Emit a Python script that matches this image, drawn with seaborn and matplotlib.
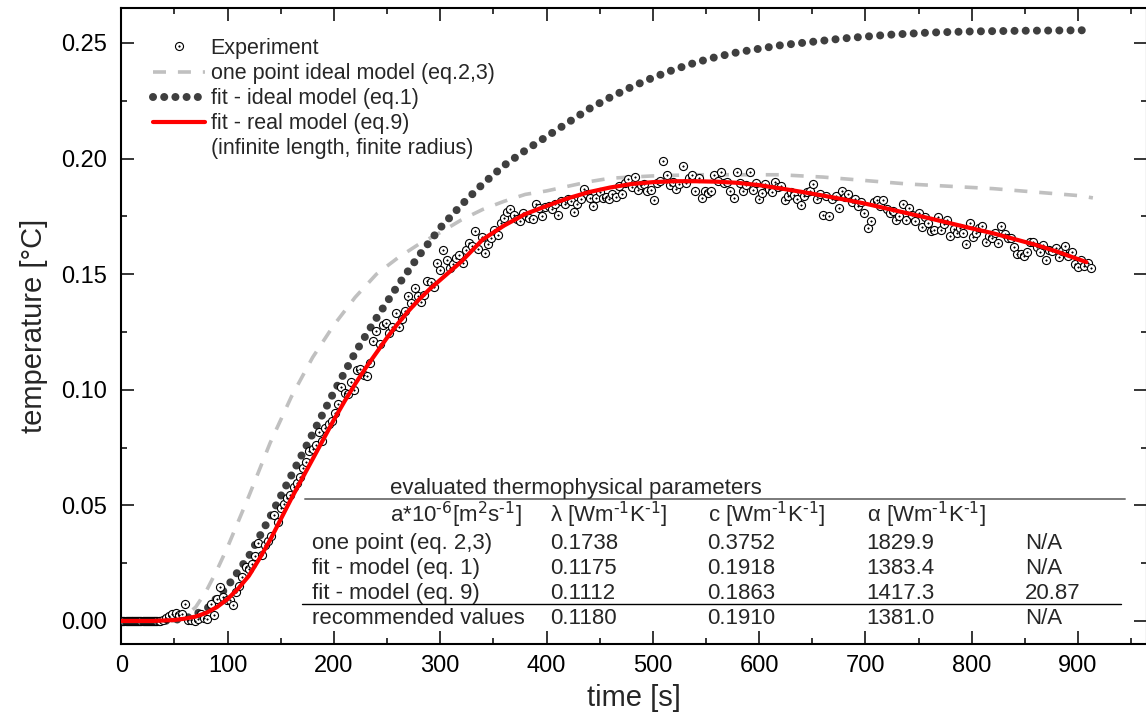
import numpy as np
import pandas as pd
import matplotlib
matplotlib.use("Agg")
import matplotlib.pyplot as plt
import seaborn as sns
from matplotlib.lines import Line2D
from matplotlib.ticker import MultipleLocator, FormatStrFormatter

# ---------------- data ----------------
# experiment: dense start (1 s sampling), then 3 s sampling from 36 s
exp_early_t = [0, 1, 2, 3, 4, 5, 6, 7, 8, 9, 10, 11, 12, 13, 14, 15, 16, 17,
               18, 19, 20, 21, 22, 23, 24, 25, 26, 27, 28, 29, 30, 31, 32, 33, 34, 35]
exp_early_y = [0.0, 0.0, 0.0, 0.0, 0.0, 0.0, 0.0, 0.0, 0.0, 0.0, 0.0, 0.0,
               0.0, 0.0, 0.0, 0.0, 0.0, 0.0, 0.0, 0.0, 0.0, 0.0, 0.0, 0.0,
               0.0, 0.0, 0.0, 0.0, 0.0, 0.0, 0.0, 0.0, 0.0, 0.0, 0.0, 0.0]
exp_y = [
    0.0000, 0.0005, 0.0012, 0.0020, 0.0031, 0.0035, 0.0024, 0.0028, 0.0074, 0.0004,   # 36-63
    0.0003, 0.0001, 0.0008, 0.0030, 0.0012, 0.0009, 0.0072, 0.0026, 0.0094, 0.0147,   # 66-93
    0.0105, 0.0090, 0.0089, 0.0070, 0.0125, 0.0151, 0.0190, 0.0233, 0.0225, 0.0245,   # 96-123
    0.0279, 0.0336, 0.0284, 0.0330, 0.0345, 0.0368, 0.0458, 0.0430, 0.0490, 0.0505,   # 126-153
    0.0530, 0.0545, 0.0580, 0.0595, 0.0623, 0.0660, 0.0686, 0.0736, 0.0745, 0.0760,   # 156-183
    0.0818, 0.0778, 0.0835, 0.0851, 0.0866, 0.0899, 0.0940, 0.1010, 0.0985, 0.0980,   # 186-213
    0.1035, 0.1000, 0.1086, 0.1090, 0.1065, 0.1060, 0.1115, 0.1210, 0.1255, 0.1200,   # 216-243
    0.1280, 0.1290, 0.1245, 0.1270, 0.1330, 0.1270, 0.1305, 0.1340, 0.1405, 0.1375,   # 246-273
    0.1440, 0.1405, 0.1380, 0.1410, 0.1470, 0.1465, 0.1445, 0.1547, 0.1520, 0.1605,   # 276-303
    0.1560, 0.1525, 0.1545, 0.1570, 0.1585, 0.1550, 0.1605, 0.1634, 0.1620, 0.1685,   # 306-333
    0.1610, 0.1660, 0.1590, 0.1630, 0.1655, 0.1690, 0.1670, 0.1720, 0.1745, 0.1770,   # 336-363
    0.1780, 0.1755, 0.1740, 0.1730, 0.1765, 0.1750, 0.1745, 0.1740, 0.1805, 0.1785,   # 366-393
    0.1750, 0.1790, 0.1795, 0.1780, 0.1805, 0.1755, 0.1815, 0.1805, 0.1823, 0.1815,   # 396-423
    0.1770, 0.1805, 0.1823, 0.1870, 0.1845, 0.1830, 0.1797, 0.1830, 0.1855, 0.1830,   # 426-453
    0.1835, 0.1826, 0.1845, 0.1835, 0.1880, 0.1845, 0.1895, 0.1910, 0.1875, 0.1920,   # 456-483
    0.1866, 0.1885, 0.1890, 0.1860, 0.1866, 0.1820, 0.1895, 0.1905, 0.1990, 0.1930,   # 486-513
    0.1885, 0.1900, 0.1870, 0.1890, 0.1970, 0.1895, 0.1915, 0.1930, 0.1860, 0.1915,   # 516-543
    0.1830, 0.1860, 0.1852, 0.1860, 0.1930, 0.1905, 0.1940, 0.1893, 0.1900, 0.1860,   # 546-573
    0.1828, 0.1944, 0.1895, 0.1860, 0.1885, 0.1940, 0.1862, 0.1893, 0.1825, 0.1850,   # 576-603
    0.1890, 0.1870, 0.1855, 0.1900, 0.1875, 0.1880, 0.1820, 0.1840, 0.1855, 0.1842,   # 606-633
    0.1825, 0.1800, 0.1840, 0.1855, 0.1860, 0.1890, 0.1825, 0.1845, 0.1755, 0.1838,   # 636-663
    0.1750, 0.1825, 0.1838, 0.1787, 0.1860, 0.1835, 0.1845, 0.1812, 0.1825, 0.1795,   # 666-693
    0.1810, 0.1765, 0.1700, 0.1730, 0.1810, 0.1820, 0.1795, 0.1820, 0.1780, 0.1765,   # 696-723
    0.1775, 0.1735, 0.1752, 0.1805, 0.1735, 0.1785, 0.1757, 0.1730, 0.1765, 0.1704,   # 726-753
    0.1748, 0.1720, 0.1685, 0.1690, 0.1748, 0.1690, 0.1715, 0.1733, 0.1666, 0.1695,   # 756-783
    0.1677, 0.1700, 0.1677, 0.1630, 0.1723, 0.1660, 0.1680, 0.1700, 0.1710, 0.1640,   # 786-813
    0.1665, 0.1655, 0.1677, 0.1634, 0.1710, 0.1673, 0.1655, 0.1658, 0.1618, 0.1586,   # 816-843
    0.1586, 0.1577, 0.1596, 0.1637, 0.1640, 0.1618, 0.1596, 0.1626, 0.1563, 0.1605,   # 846-873
    0.1600, 0.1614, 0.1574, 0.1600, 0.1620, 0.1580, 0.1596, 0.1542, 0.1533, 0.1562,   # 876-903
    0.1537, 0.1548, 0.1528,                                                           # 906-912
]
exp_t = np.arange(36, 913, 3)

# one point ideal model (eq.2,3)
onept_t = [0, 50, 60, 70, 80, 90, 100, 110, 120, 140, 160, 180, 200, 220, 240, 260,
           280, 300, 320, 340, 360, 380, 400, 420, 440, 460, 480, 500, 540, 580, 620,
           660, 700, 740, 780, 820, 860, 900, 914]
onept_y = [0.0, 0.0, 0.002, 0.006, 0.013, 0.022, 0.032, 0.043, 0.054, 0.077, 0.097,
           0.114, 0.128, 0.140, 0.150, 0.157, 0.163, 0.168, 0.1735, 0.178, 0.1815,
           0.1845, 0.186, 0.188, 0.190, 0.1915, 0.192, 0.1925, 0.193, 0.193, 0.193,
           0.192, 0.1905, 0.189, 0.188, 0.187, 0.1855, 0.184, 0.183]

# fit - ideal model (eq.1)
ideal_t = [0, 40, 60, 80, 100, 120, 140, 160, 180, 200, 220, 240, 260, 280, 300, 320,
           340, 360, 380, 400, 420, 440, 460, 480, 500, 520, 540, 560, 580, 600, 620,
           650, 680, 720, 760, 800, 850, 905]
ideal_y = [0.0, 0.0, 0.001, 0.005, 0.015, 0.028, 0.045, 0.063, 0.081, 0.099, 0.116,
           0.131, 0.145, 0.158, 0.170, 0.180, 0.189, 0.197, 0.2035, 0.2095, 0.2155,
           0.2215, 0.2265, 0.231, 0.235, 0.2385, 0.2415, 0.244, 0.246, 0.2475, 0.249,
           0.2505, 0.252, 0.2535, 0.2545, 0.255, 0.2553, 0.2555]

# fit - real model (eq.9)
real_t = [0, 30, 50, 60, 70, 80, 90, 100, 110, 120, 130, 140, 150, 160, 170, 180, 190,
          200, 210, 220, 230, 240, 250, 260, 270, 280, 290, 300, 320, 340, 360, 380,
          400, 420, 440, 460, 480, 500, 520, 540, 560, 580, 600, 620, 640, 660, 680,
          700, 720, 740, 760, 780, 800, 820, 840, 860, 880, 900, 908]
real_y = [0.0, 0.0, 0.0004, 0.001, 0.0019, 0.0035, 0.006, 0.0095, 0.014, 0.0195,
          0.027, 0.035, 0.044, 0.053, 0.0615, 0.070, 0.0785, 0.087, 0.095, 0.1025,
          0.1095, 0.116, 0.1225, 0.1285, 0.134, 0.139, 0.1435, 0.1475, 0.1555,
          0.165, 0.171, 0.176, 0.1795, 0.1828, 0.1855, 0.1875, 0.189, 0.1898,
          0.1902, 0.1902, 0.190, 0.1895, 0.1885, 0.1871, 0.1856, 0.184, 0.1823,
          0.1805, 0.1784, 0.1763, 0.1742, 0.172, 0.1698, 0.1677, 0.1652, 0.1627,
          0.1598, 0.1565, 0.1552]

legend_labels = ["Experiment", "one point ideal model (eq.2,3)", "fit - ideal model (eq.1)",
                 "fit - real model (eq.9)", "(infinite length, finite radius)"]

table_title = "evaluated thermophysical parameters"
table_headers = [r"a*10$^{\text{-6}}$[m$^{\text{2}}$s$^{\text{-1}}$]",
                 r"λ [Wm$^{\text{-1}}$K$^{\text{-1}}$]",
                 r"c [Wm$^{\text{-1}}$K$^{\text{-1}}$]",
                 r"α [Wm$^{\text{-1}}$K$^{\text{-1}}$]"]
table_rows = ["one point (eq. 2,3)", "fit - model (eq. 1)", "fit - model (eq. 9)",
              "recommended values"]
col_lambda = ["0.1738", "0.1175", "0.1112", "0.1180"]
col_c = ["0.3752", "0.1918", "0.1863", "0.1910"]
col_alpha = ["1829.9", "1383.4", "1417.3", "1381.0"]
col_last = ["N/A", "N/A", "20.87", "N/A"]

# ---------------- style ----------------
sns.set_theme(style="white")
plt.rcParams['font.family'] = ['Liberation Sans', 'DejaVu Sans']
plt.rcParams['mathtext.default'] = 'regular'

W, H = 1146, 716
fig = plt.figure(figsize=(W / 100, H / 100), dpi=100)
fig.patch.set_facecolor('white')

def fx(x):
    return x / W

def fy(y):
    return 1 - y / H

ax = fig.add_axes([fx(121.3), fy(644.3), fx(1146.5) - fx(121.3), fy(8.3) - fy(644.3)])
ax.set_facecolor('white')

exp_df = pd.DataFrame({"t": np.concatenate([np.array(exp_early_t, float), exp_t]),
                       "y": np.concatenate([np.array(exp_early_y), np.array(exp_y)])})

GRAY = '#c0c0c0'
DARK = '#3f3f3f'
RED = '#ff0000'

sns.lineplot(x=onept_t, y=onept_y, ax=ax, color=GRAY, linewidth=2.6, zorder=2)
l_one = ax.lines[-1]
l_one.set_linestyle((0, (3.6, 3.3)))

sns.lineplot(x=ideal_t, y=ideal_y, ax=ax, color=DARK, linewidth=5.8, zorder=3)
l_ideal = ax.lines[-1]
l_ideal.set_linestyle((0, (0.001, 1.39)))
l_ideal.set_dash_capstyle('round')

sns.scatterplot(data=exp_df, x="t", y="y", ax=ax, marker='o', s=34, color='white',
                edgecolor='black', linewidth=0.8, zorder=4)
sns.scatterplot(data=exp_df, x="t", y="y", ax=ax, marker='o', s=1.3, color='black',
                edgecolor='black', linewidth=0.3, zorder=4)

sns.lineplot(x=real_t, y=real_y, ax=ax, color=RED, linewidth=3.0, zorder=5)

ax.set_xlim(0, (1146.5 - 121.3) / 1.063)
ax.set_ylim(-0.0101, 0.265)
ax.xaxis.set_major_locator(MultipleLocator(100))
ax.xaxis.set_minor_locator(MultipleLocator(50))
ax.yaxis.set_major_locator(MultipleLocator(0.05))
ax.yaxis.set_minor_locator(MultipleLocator(0.025))
ax.yaxis.set_major_formatter(FormatStrFormatter('%.2f'))
ax.tick_params(which='both', direction='in', top=True, right=True, bottom=True, left=True,
               colors='black', width=1.1)
ax.tick_params(which='major', length=9.5)
ax.tick_params(which='minor', length=4.5)
ax.tick_params(axis='x', which='major', labelsize=17, pad=8)
ax.tick_params(axis='y', which='major', labelsize=17, pad=10)
for s in ax.spines.values():
    s.set_color('black')
    s.set_linewidth(1.5)

ax.set_xlabel("time [s]", fontsize=21, labelpad=5)
ax.set_ylabel("temperature [°C]", fontsize=21, labelpad=10)

# legend
h_exp = (Line2D([], [], ls='none', marker='o', ms=5.8, mfc='white', mec='black', mew=0.8),
         Line2D([], [], ls='none', marker='o', ms=1.2, mfc='black', mec='black', mew=0.3))
h_one = Line2D([], [], color=GRAY, lw=2.6, ls=(0, (3.6, 3.3)))
h_ideal = Line2D([], [], color=DARK, lw=5.8, ls=(0, (0.001, 1.39)), dash_capstyle='round')
h_real = Line2D([], [], color=RED, lw=3.0)
h_blank = Line2D([], [], ls='none')
ax.legend(handles=[h_exp, h_one, h_ideal, h_real, h_blank], labels=legend_labels,
          loc='upper left', bbox_to_anchor=(fx(153), fy(38)), bbox_transform=fig.transFigure,
          frameon=False, fontsize=15.5, handlelength=2.4, handletextpad=0.28,
          labelspacing=0.19, borderpad=0, borderaxespad=0, numpoints=1)

# parameter table
TF = 16
fig.text(fx(390), fy(494), table_title, fontsize=TF, va='baseline', ha='left')
fig.add_artist(Line2D([fx(305), fx(1125)], [fy(499.3), fy(499.3)],
                      transform=fig.transFigure, color='#7a7a7a', lw=1.4))
header_x = [390, 550, 708, 866.7]
for hx, txt in zip(header_x, table_headers):
    fig.text(fx(hx), fy(522.7), txt, fontsize=TF, va='baseline', ha='left')
row_base = [549, 574, 599, 624]
for i, yb in enumerate(row_base):
    fig.text(fx(311.7), fy(yb), table_rows[i], fontsize=TF, va='baseline', ha='left')
    fig.text(fx(550), fy(yb), col_lambda[i], fontsize=TF, va='baseline', ha='left')
    fig.text(fx(707.3), fy(yb), col_c[i], fontsize=TF, va='baseline', ha='left')
    fig.text(fx(866.7), fy(yb), col_alpha[i], fontsize=TF, va='baseline', ha='left')
    fig.text(fx(1025), fy(yb), col_last[i], fontsize=TF, va='baseline', ha='left')
fig.add_artist(Line2D([fx(301.7), fx(1120.7)], [fy(604.3), fy(604.3)],
                      transform=fig.transFigure, color='black', lw=1.0))

fig.savefig("out.png", dpi=100, facecolor='white')
